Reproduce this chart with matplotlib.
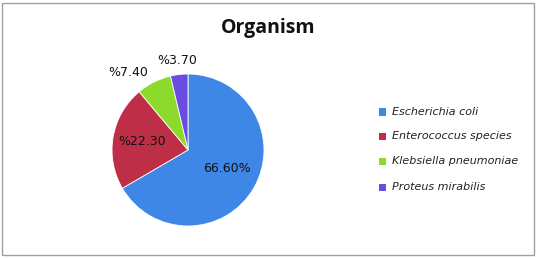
import numpy as np
import matplotlib
matplotlib.use("Agg")
import matplotlib.pyplot as plt
from matplotlib.patches import Rectangle

categories = ["Escherichia coli", "Enterococcus species", "Klebsiella pneumoniae", "Proteus mirabilis"]
values = [66.6, 22.3, 7.4, 3.7]
labels = ["66.60%", "%22.30", "%7.40", "%3.70"]
colors = ["#3F87E6", "#BE2E46", "#8BDA2C", "#6A4CE2"]
label_dist = [0.57, 0.62, 1.28, 1.19]
label_shift = [5, 0, 11, 0]  # degrees, placement tweak

W, H = 537, 258
fig = plt.figure(figsize=(W / 100, H / 100), dpi=100)
fig.patch.set_facecolor("white")
fig.add_artist(Rectangle((2 / W, 3 / H), (W - 5) / W, (H - 6) / H, transform=fig.transFigure,
                         fill=False, edgecolor="#9AA39A", linewidth=1.0))

cx, cy, r = 188, 150, 76
ax = fig.add_axes([(cx - r) / W, (H - cy - r) / H, 2 * r / W, 2 * r / H])
wedges, _ = ax.pie(values, colors=colors, startangle=90, counterclock=False,
                   wedgeprops=dict(edgecolor="white", linewidth=0.6))
ax.set_xlim(-1, 1)
ax.set_ylim(-1, 1)
ax.set_aspect("equal")
ax.axis("off")

for w, lab, d, s in zip(wedges, labels, label_dist, label_shift):
    ang = np.deg2rad((w.theta1 + w.theta2) / 2 + s)
    ax.text(d * np.cos(ang), d * np.sin(ang), lab, ha="center", va="center",
            fontsize=9, color="#111111", family="DejaVu Sans", clip_on=False)

fig.text(268 / W, 1 - 28 / H, "Organism", ha="center", va="center",
         fontsize=14, fontweight="bold", family="Open Sans", color="#111111")

ys = [112, 136, 161, 187]
for name, col, y in zip(categories, colors, ys):
    fig.add_artist(Rectangle(((379) / W, (H - y - 3.5) / H), 7 / W, 7 / H,
                             transform=fig.transFigure, facecolor=col, edgecolor="none"))
    fig.text(392 / W, 1 - y / H, name, ha="left", va="center", fontsize=8,
             style="italic", color="#222222", family="DejaVu Sans")

fig.savefig("out.png", dpi=100)
